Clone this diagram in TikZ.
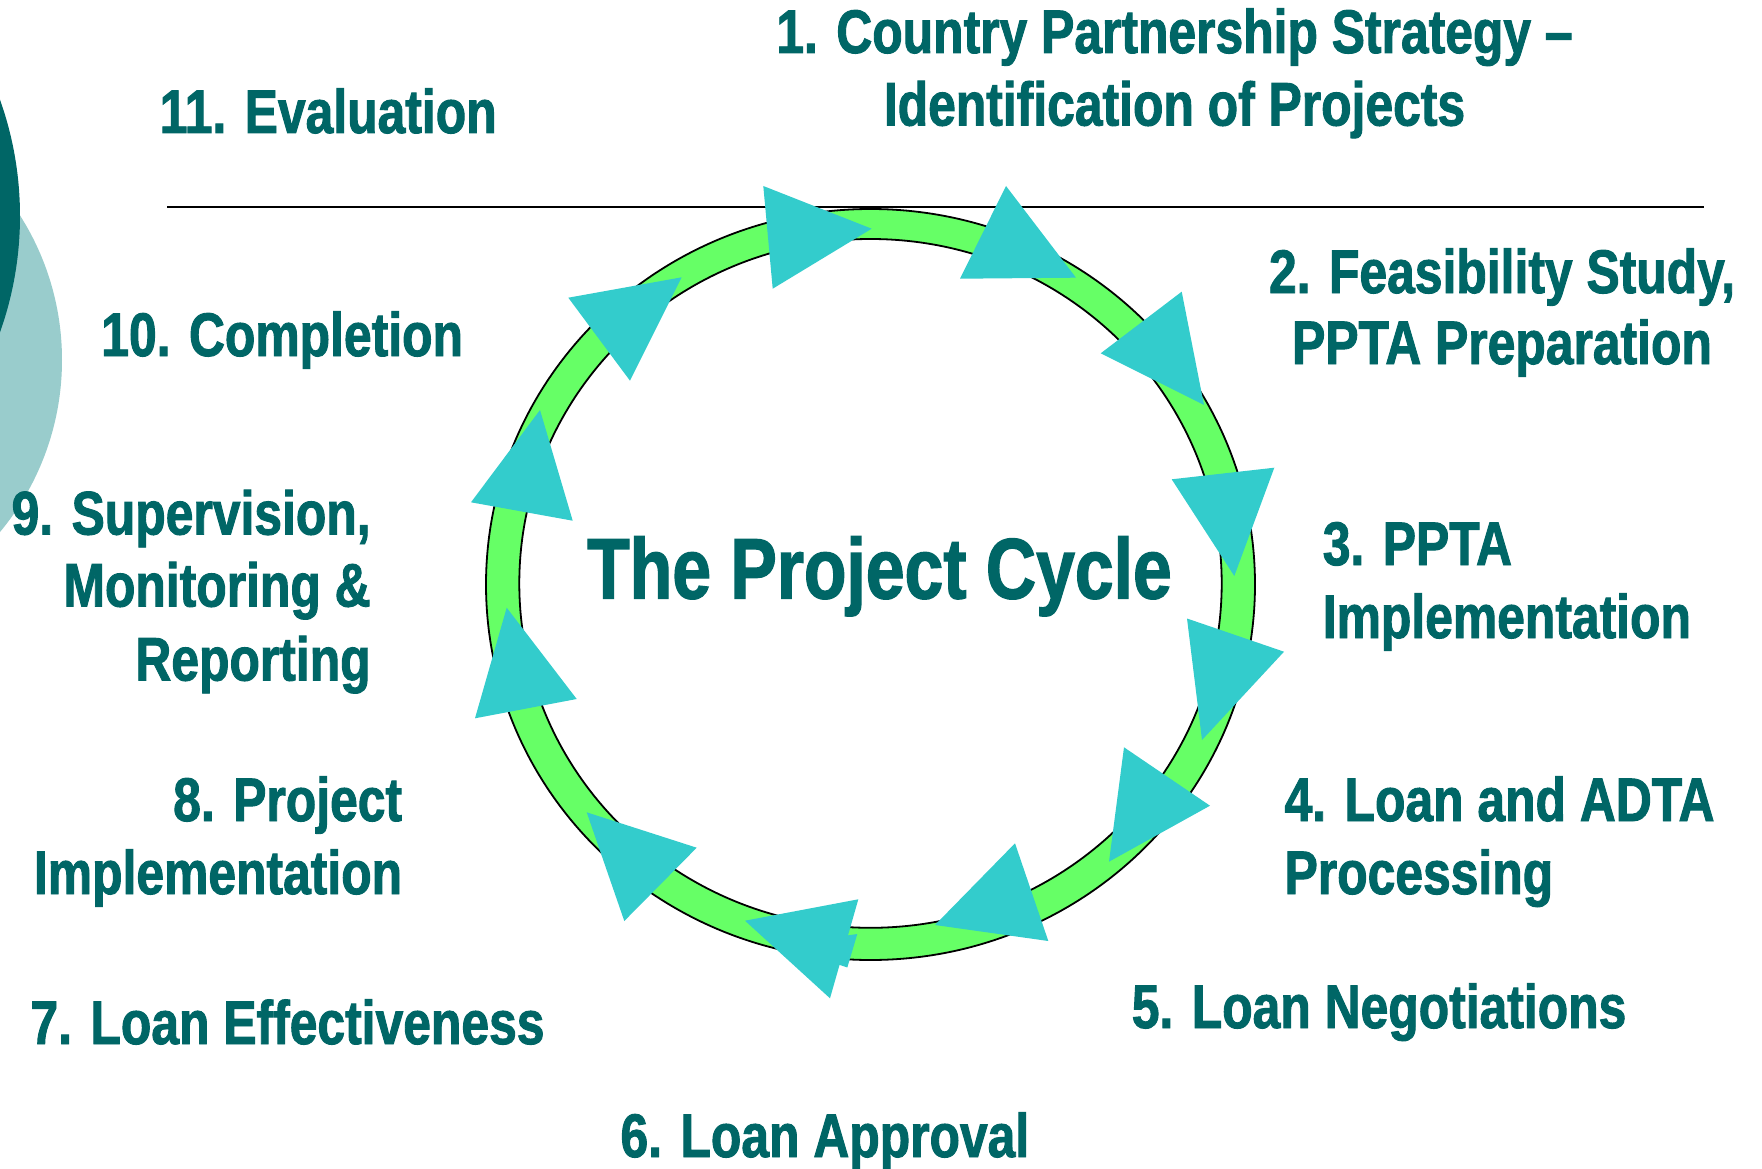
\documentclass[tikz,border=0pt]{standalone}
\usepackage{fontspec}
\newfontfamily\lblfont{Liberation Sans}[FakeStretch=0.81,FakeBold=1.5]
\definecolor{tealtxt}{HTML}{006666}
\definecolor{darkcirc}{HTML}{006666}
\definecolor{lightcirc}{HTML}{99CCCC}
\definecolor{ringgreen}{HTML}{66FF66}
\definecolor{tricol}{HTML}{33CCCC}
\begin{document}
\begin{tikzpicture}[x=1pt,y=-1pt,
  lbl/.style={font=\lblfont\bfseries\fontsize{61.5}{73}\selectfont, text=tealtxt, inner sep=0pt},
  ttl/.style={font=\lblfont\bfseries\fontsize{86}{100}\selectfont, text=tealtxt, inner sep=0pt},
  tri/.style={fill=tricol},
  ringstyle/.style={fill=ringgreen, draw=black, line width=1.8pt, even odd rule},
  rule/.style={draw=black, line width=2pt}]
\useasboundingbox (0,0) rectangle (1762,1169);
\fill[white] (0,0) rectangle (1762,1169);
\begin{scope}
\clip (0,0) rectangle (1762,1169);
\fill[lightcirc] (-207.6,360) circle[radius=269.6pt];
\fill[darkcirc] (-326.4,216) circle[radius=346.4pt];
\end{scope}
% rule
\coordinate (rl) at (167.4,207);
\coordinate (rr) at (1703.5,207);
\draw[rule] (rl) -- (rr);
% ring
\path[ringstyle] (870.5,584.5) ellipse[x radius=384.5pt, y radius=375.5pt]
                 (870.5,583.4) ellipse[x radius=351.2pt, y radius=344.4pt];
% triangles
\fill[tri] (763.3,186) -- (772.7,288.7) -- (871.7,228.7) -- cycle;
\fill[tri] (1006,186) -- (960,278.7) -- (1076,277.7) -- cycle;
\fill[tri] (1100.7,353.3) -- (1181.7,291.7) -- (1204,405) -- cycle;
\fill[tri] (1171.7,479.3) -- (1274.3,467.7) -- (1234.3,576) -- cycle;
\fill[tri] (1187,618.5) -- (1284,651.7) -- (1202,740) -- cycle;
\fill[tri] (1124,747.3) -- (1210,805.7) -- (1109,861.7) -- cycle;
\fill[tri] (1015,843.3) -- (935,925) -- (1048.3,941) -- cycle;
\fill[tri] (780,945) -- (857.3,934) -- (847.3,967.5) -- cycle;
\fill[tri] (745,920.7) -- (858.3,899.3) -- (830,998.3) -- cycle;
\fill[tri] (586.7,812.3) -- (696.7,847.7) -- (624.3,921) -- cycle;
\fill[tri] (506.7,607.7) -- (475,718.3) -- (576.7,699) -- cycle;
\fill[tri] (540,410) -- (471,502.3) -- (572.7,520.7) -- cycle;
\fill[tri] (568.3,297.7) -- (681.7,277.3) -- (630,380.7) -- cycle;
% title
\node[ttl, anchor=base] (title) at (879.5,598.5) {The Project Cycle};
% labels
\node[lbl, anchor=base] (s1a) at (1174.5,53) {1. Country Partnership Strategy –};
\node[lbl, anchor=base] (s1b) at (1174.5,125.5) {Identification of Projects};
\node[lbl, anchor=base] (s2a) at (1502,293) {2. Feasibility Study,};
\node[lbl, anchor=base] (s2b) at (1502,364) {PPTA Preparation};
\node[lbl, anchor=base west] (s3a) at (1322.6,565) {3. PPTA};
\node[lbl, anchor=base west] (s3b) at (1322.6,638) {Implementation};
\node[lbl, anchor=base west] (s4a) at (1284.4,821) {4. Loan and ADTA};
\node[lbl, anchor=base west] (s4b) at (1284.4,894) {Processing};
\node[lbl, anchor=base west] (s5) at (1131.6,1028) {5. Loan Negotiations};
\node[lbl, anchor=base west] (s6) at (620.3,1157) {6. Loan Approval};
\node[lbl, anchor=base west] (s7) at (30.3,1044) {7. Loan Effectiveness};
\node[lbl, anchor=base east] (s8a) at (402.3,821) {8. Project};
\node[lbl, anchor=base east] (s8b) at (402.3,894) {Implementation};
\node[lbl, anchor=base east] (s9a) at (370.8,534.5) {9. Supervision,};
\node[lbl, anchor=base east] (s9b) at (370.8,606.5) {Monitoring \&};
\node[lbl, anchor=base east] (s9c) at (370.8,680.5) {Reporting};
\node[lbl, anchor=base west] (s10) at (101.1,356) {10. Completion};
\node[lbl, anchor=base west] (s11) at (159.6,133) {11. Evaluation};
\end{tikzpicture}
\end{document}
